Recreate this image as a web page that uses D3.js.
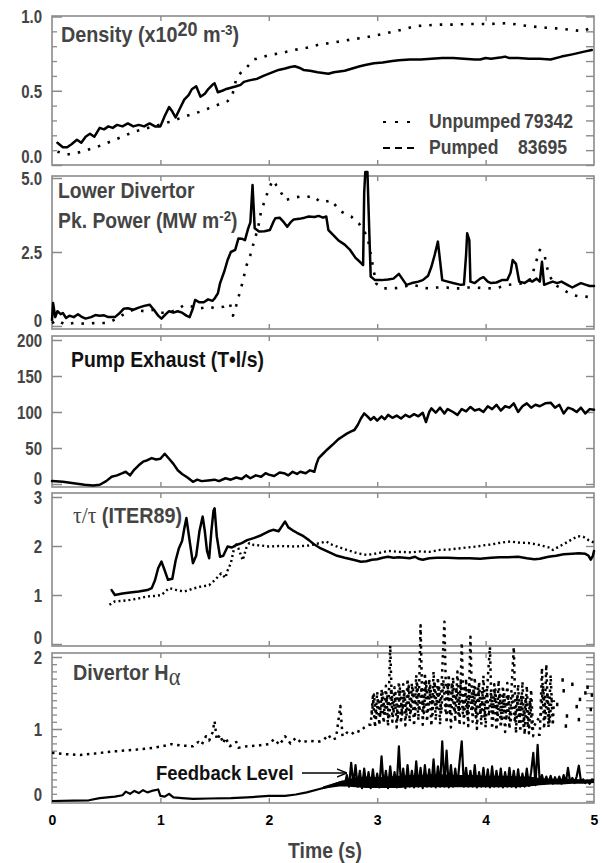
<!DOCTYPE html>
<html><head><meta charset="utf-8">
<script src="https://cdn.jsdelivr.net/npm/d3@7"></script>
<style>body{margin:0;background:#fff}</style>
</head><body>
<svg id="c" width="603" height="863"></svg>
<script>
// ---------------- DATA ----------------
const timeTicks = [0,1,2,3,4,5];

const densUnpumped = [[0.05,0.09],[0.14,0.07],[0.25,0.085],[0.41,0.12],[0.58,0.17],[0.76,0.225],[0.94,0.26],[1.08,0.29],[1.22,0.325],[1.37,0.36],[1.51,0.40],[1.62,0.43],[1.66,0.46],[1.70,0.58],[1.75,0.63],[1.80,0.66],[1.86,0.71],[2.0,0.74],[2.12,0.755],[2.24,0.775],[2.35,0.79],[2.46,0.81],[2.6,0.825],[2.76,0.845],[2.9,0.86],[3.1,0.89],[3.25,0.915],[3.35,0.935],[3.55,0.945],[3.7,0.945],[3.85,0.95],[4.05,0.95],[4.2,0.955],[4.3,0.945],[4.4,0.935],[4.55,0.925],[4.65,0.92],[4.8,0.91],[4.9,0.90],[4.97,0.925]];
const densPumped = [[0.05,0.15],[0.1,0.12],[0.14,0.12],[0.18,0.14],[0.23,0.17],[0.27,0.15],[0.31,0.19],[0.35,0.21],[0.39,0.19],[0.44,0.25],[0.48,0.24],[0.52,0.26],[0.56,0.25],[0.6,0.27],[0.65,0.26],[0.7,0.28],[0.75,0.26],[0.8,0.27],[0.85,0.26],[0.9,0.28],[0.95,0.26],[1.0,0.26],[1.04,0.33],[1.08,0.39],[1.11,0.36],[1.14,0.32],[1.18,0.38],[1.22,0.44],[1.26,0.47],[1.29,0.51],[1.33,0.53],[1.37,0.46],[1.41,0.48],[1.44,0.51],[1.48,0.54],[1.5,0.55],[1.53,0.49],[1.57,0.50],[1.6,0.51],[1.65,0.52],[1.7,0.53],[1.74,0.54],[1.77,0.56],[1.82,0.57],[1.89,0.58],[1.95,0.6],[2.02,0.62],[2.09,0.64],[2.15,0.65],[2.2,0.66],[2.24,0.665],[2.28,0.655],[2.32,0.64],[2.38,0.635],[2.45,0.625],[2.5,0.62],[2.55,0.615],[2.6,0.625],[2.65,0.63],[2.7,0.635],[2.77,0.65],[2.84,0.665],[2.9,0.675],[2.97,0.685],[3.05,0.69],[3.14,0.70],[3.2,0.705],[3.3,0.71],[3.4,0.71],[3.5,0.715],[3.6,0.72],[3.7,0.72],[3.8,0.715],[3.9,0.71],[3.95,0.71],[4.0,0.72],[4.05,0.715],[4.1,0.72],[4.15,0.725],[4.18,0.73],[4.22,0.72],[4.3,0.72],[4.4,0.715],[4.5,0.715],[4.6,0.71],[4.7,0.73],[4.8,0.745],[4.86,0.755],[4.92,0.765],[4.98,0.775]];

const powerPumped = [[0.0,0.2],[0.01,0.78],[0.03,0.3],[0.05,0.5],[0.08,0.4],[0.1,0.44],[0.13,0.27],[0.16,0.35],[0.2,0.3],[0.24,0.4],[0.27,0.32],[0.31,0.25],[0.36,0.3],[0.4,0.37],[0.44,0.35],[0.48,0.36],[0.52,0.3],[0.58,0.3],[0.62,0.42],[0.66,0.58],[0.7,0.6],[0.75,0.55],[0.8,0.62],[0.85,0.68],[0.9,0.72],[0.94,0.55],[0.98,0.35],[1.01,0.25],[1.05,0.4],[1.08,0.5],[1.12,0.45],[1.16,0.5],[1.2,0.45],[1.24,0.35],[1.27,0.3],[1.3,0.6],[1.32,0.88],[1.36,0.8],[1.4,0.8],[1.44,0.9],[1.48,0.85],[1.5,0.93],[1.53,1.1],[1.55,1.44],[1.59,1.85],[1.62,2.23],[1.65,2.5],[1.69,2.57],[1.72,2.96],[1.75,2.95],[1.78,2.9],[1.81,3.3],[1.83,3.5],[1.85,4.76],[1.87,3.3],[1.91,3.19],[1.96,3.2],[2.01,3.24],[2.04,3.5],[2.06,3.64],[2.1,3.66],[2.14,3.5],[2.17,3.35],[2.2,3.5],[2.23,3.6],[2.28,3.62],[2.33,3.66],[2.37,3.7],[2.42,3.68],[2.46,3.72],[2.5,3.66],[2.53,3.7],[2.55,3.24],[2.6,3.05],[2.64,2.9],[2.7,2.75],[2.75,2.57],[2.8,2.3],[2.84,2.17],[2.87,2.06],[2.88,4.5],[2.89,5.2],[2.91,5.2],[2.92,4.0],[2.94,1.67],[2.98,1.55],[3.04,1.55],[3.1,1.57],[3.15,1.6],[3.2,1.76],[3.23,1.6],[3.27,1.39],[3.32,1.45],[3.38,1.5],[3.42,1.55],[3.47,1.7],[3.5,2.0],[3.53,2.4],[3.56,2.85],[3.58,2.2],[3.6,1.55],[3.65,1.5],[3.7,1.45],[3.77,1.39],[3.8,1.4],[3.82,2.4],[3.83,3.13],[3.85,2.9],[3.86,1.5],[3.9,1.45],[3.95,1.6],[3.98,1.65],[4.02,1.5],[4.05,1.45],[4.1,1.47],[4.15,1.55],[4.2,1.55],[4.23,1.8],[4.25,2.23],[4.28,2.1],[4.31,1.5],[4.36,1.45],[4.4,1.55],[4.43,1.5],[4.47,1.6],[4.5,1.5],[4.52,2.17],[4.54,1.39],[4.58,1.45],[4.62,1.5],[4.66,1.45],[4.7,1.5],[4.75,1.4],[4.8,1.3],[4.85,1.4],[4.88,1.45],[4.92,1.4],[4.96,1.35],[5.0,1.35]];
const powerUnpumped = [[0.0,0.1],[0.05,0.2],[0.12,0.05],[0.2,0.1],[0.3,0.08],[0.4,0.1],[0.51,0.1],[0.6,0.25],[0.68,0.44],[0.75,0.55],[0.85,0.5],[0.94,0.55],[1.0,0.45],[1.08,0.45],[1.15,0.55],[1.22,0.71],[1.3,0.65],[1.37,0.6],[1.45,0.65],[1.5,0.6],[1.58,0.65],[1.64,0.77],[1.67,0.35],[1.7,0.7],[1.73,1.1],[1.76,1.5],[1.79,2.0],[1.83,2.4],[1.86,2.8],[1.9,3.3],[1.93,3.9],[1.97,4.3],[2.0,4.65],[2.04,4.93],[2.07,4.75],[2.1,4.6],[2.15,4.25],[2.2,4.3],[2.25,4.35],[2.29,4.37],[2.35,4.35],[2.4,4.4],[2.44,4.3],[2.47,4.2],[2.52,4.2],[2.58,4.25],[2.62,4.05],[2.65,3.9],[2.7,3.8],[2.76,3.7],[2.8,3.55],[2.83,3.47],[2.87,3.25],[2.91,3.02],[2.95,2.23],[2.99,1.44],[3.03,1.3],[3.06,1.27],[3.12,1.27],[3.17,1.28],[3.22,1.3],[3.27,1.35],[3.32,1.39],[3.38,1.35],[3.44,1.28],[3.48,1.27],[3.55,1.3],[3.64,1.3],[3.7,1.27],[3.77,1.27],[3.84,1.3],[3.91,1.3],[3.98,1.28],[4.05,1.27],[4.12,1.3],[4.2,1.39],[4.28,1.42],[4.35,1.44],[4.42,1.6],[4.46,2.1],[4.5,2.57],[4.54,2.45],[4.56,2.1],[4.58,1.76],[4.62,1.5],[4.66,1.35],[4.7,1.27],[4.75,1.15],[4.8,1.05],[4.86,1.0],[4.9,1.0],[4.95,0.98]];

const pumpExhaust = [[0,4],[0.1,3],[0.2,1],[0.3,-1],[0.38,-2],[0.44,-1],[0.5,4],[0.55,10],[0.6,12],[0.65,15],[0.68,17],[0.72,12],[0.76,20],[0.8,26],[0.84,31],[0.88,33],[0.92,36],[0.96,34],[1.0,35],[1.04,42],[1.08,35],[1.12,28],[1.16,19],[1.2,14],[1.25,9],[1.3,3],[1.34,6],[1.38,4],[1.44,5],[1.5,6],[1.54,4],[1.6,8],[1.65,6],[1.7,9],[1.75,7],[1.79,12],[1.83,8],[1.88,12],[1.93,10],[1.97,15],[2.0,13],[2.05,11],[2.1,16],[2.14,15],[2.18,12],[2.22,17],[2.26,14],[2.29,17],[2.34,15],[2.38,19],[2.42,17],[2.44,28],[2.46,36],[2.5,42],[2.54,48],[2.57,52],[2.6,56],[2.64,62],[2.68,66],[2.72,70],[2.76,73],[2.79,75],[2.82,82],[2.85,91],[2.88,98],[2.91,94],[2.94,89],[2.97,93],[3.0,88],[3.04,94],[3.07,90],[3.1,96],[3.14,92],[3.18,95],[3.22,91],[3.26,96],[3.3,93],[3.34,97],[3.38,94],[3.42,99],[3.45,86],[3.48,100],[3.5,105],[3.54,99],[3.58,106],[3.62,98],[3.65,104],[3.7,100],[3.74,96],[3.78,104],[3.82,101],[3.86,107],[3.9,102],[3.94,104],[3.98,100],[4.02,108],[4.06,104],[4.1,110],[4.14,102],[4.18,108],[4.22,106],[4.26,112],[4.3,100],[4.34,108],[4.38,112],[4.42,106],[4.46,110],[4.5,108],[4.55,112],[4.6,113],[4.64,106],[4.68,110],[4.72,98],[4.76,106],[4.8,104],[4.84,100],[4.88,106],[4.92,98],[4.96,104],[5.0,103]];

const tauPumped = [[0.55,1.10],[0.58,1.0],[0.65,1.03],[0.72,1.05],[0.8,1.07],[0.88,1.1],[0.92,1.14],[0.95,1.3],[0.98,1.55],[1.01,1.68],[1.04,1.5],[1.07,1.31],[1.11,1.33],[1.14,1.7],[1.17,1.95],[1.2,2.1],[1.22,2.35],[1.24,2.57],[1.27,2.1],[1.3,1.65],[1.33,1.8],[1.36,2.3],[1.39,2.6],[1.41,2.3],[1.43,1.9],[1.45,1.75],[1.47,2.3],[1.49,2.72],[1.5,2.77],[1.52,2.2],[1.55,1.78],[1.58,1.8],[1.62,1.99],[1.66,1.97],[1.7,2.02],[1.75,2.06],[1.8,2.12],[1.86,2.16],[1.93,2.22],[2.0,2.3],[2.04,2.33],[2.09,2.3],[2.12,2.4],[2.15,2.5],[2.18,2.38],[2.22,2.32],[2.26,2.27],[2.32,2.2],[2.37,2.12],[2.42,2.03],[2.48,1.95],[2.53,1.9],[2.58,1.85],[2.63,1.8],[2.7,1.76],[2.78,1.72],[2.85,1.68],[2.9,1.69],[2.95,1.72],[3.0,1.73],[3.05,1.76],[3.1,1.78],[3.15,1.76],[3.2,1.77],[3.25,1.76],[3.3,1.75],[3.35,1.78],[3.38,1.74],[3.42,1.72],[3.48,1.75],[3.55,1.76],[3.65,1.76],[3.75,1.75],[3.85,1.75],[3.95,1.74],[4.05,1.76],[4.13,1.77],[4.2,1.77],[4.3,1.78],[4.38,1.75],[4.45,1.73],[4.5,1.74],[4.58,1.78],[4.65,1.8],[4.72,1.83],[4.8,1.84],[4.86,1.85],[4.92,1.84],[4.95,1.8],[4.97,1.72],[4.99,1.8],[5.0,1.9]];
const tauUnpumped = [[0.53,0.8],[0.58,0.87],[0.65,0.88],[0.72,0.9],[0.8,0.93],[0.87,0.97],[0.94,0.98],[1.01,1.0],[1.08,1.14],[1.15,1.1],[1.22,1.07],[1.3,1.13],[1.37,1.17],[1.45,1.2],[1.5,1.3],[1.56,1.44],[1.6,1.35],[1.62,1.5],[1.65,1.65],[1.69,2.06],[1.72,1.95],[1.76,1.71],[1.79,1.95],[1.82,2.06],[1.86,2.02],[1.93,2.01],[2.0,1.99],[2.1,2.0],[2.24,1.99],[2.37,2.01],[2.45,2.05],[2.53,2.09],[2.58,2.03],[2.64,1.98],[2.72,1.92],[2.82,1.85],[2.9,1.82],[2.95,1.83],[3.02,1.86],[3.1,1.9],[3.2,1.88],[3.32,1.87],[3.4,1.89],[3.48,1.88],[3.58,1.92],[3.67,1.93],[3.75,1.95],[3.83,1.97],[3.92,1.99],[4.0,2.02],[4.05,2.03],[4.12,2.06],[4.18,2.08],[4.23,2.09],[4.3,2.07],[4.4,2.06],[4.48,2.03],[4.55,1.99],[4.6,1.96],[4.62,1.92],[4.67,1.98],[4.73,2.05],[4.8,2.14],[4.85,2.2],[4.9,2.19],[4.95,2.12],[5.0,2.07]];

const haUnpumped = [[0,0.67],[0.13,0.65],[0.26,0.64],[0.4,0.66],[0.58,0.69],[0.75,0.71],[0.94,0.74],[1.05,0.77],[1.1,0.79],[1.2,0.77],[1.3,0.76],[1.35,0.82],[1.38,0.78],[1.42,0.9],[1.45,0.84],[1.48,0.95],[1.5,1.11],[1.52,0.85],[1.55,0.92],[1.58,0.8],[1.6,0.88],[1.64,0.76],[1.7,0.82],[1.72,0.74],[1.8,0.76],[1.9,0.77],[2.0,0.79],[2.05,0.86],[2.1,0.78],[2.15,0.9],[2.2,0.8],[2.25,0.88],[2.3,0.81],[2.37,0.84],[2.45,0.82],[2.5,0.84],[2.55,0.92],[2.58,0.85],[2.62,0.87],[2.66,1.32],[2.68,0.9],[2.72,0.95],[2.76,0.92],[2.8,0.98],[2.84,0.96],[2.88,1.02],[2.92,1.06],
[2.94,1.06],[2.96,1.45],[2.98,1.02],[3.00,1.52],[3.02,1.05],[3.04,1.55],[3.06,1.08],[3.08,1.6],[3.10,1.04],[3.12,2.16],[3.14,1.1],[3.16,1.58],[3.18,1.02],[3.20,1.66],[3.22,1.08],[3.24,1.62],[3.26,1.05],[3.28,1.7],[3.30,1.1],[3.32,1.64],[3.34,1.04],[3.36,1.75],[3.38,1.12],[3.40,2.44],[3.42,1.06],[3.44,1.78],[3.46,1.1],[3.48,1.7],[3.50,1.04],[3.52,1.8],[3.54,1.12],[3.56,1.72],[3.58,1.06],[3.60,1.82],[3.62,2.49],[3.64,1.08],[3.66,1.76],[3.68,1.02],[3.70,1.72],[3.72,1.1],[3.74,1.8],[3.76,1.05],[3.78,2.2],[3.80,1.08],[3.82,1.7],[3.84,1.04],[3.86,2.28],[3.88,1.1],[3.90,1.72],[3.92,1.0],[3.94,1.66],[3.96,1.06],[3.98,1.74],[4.00,1.02],[4.02,1.7],[4.04,2.14],[4.06,1.0],[4.08,1.62],[4.10,0.98],[4.12,1.68],[4.14,1.02],[4.16,1.6],[4.18,0.96],[4.20,1.64],[4.22,1.0],[4.24,1.58],[4.26,2.14],[4.28,0.94],[4.30,1.62],[4.32,0.96],[4.34,1.66],[4.36,0.92],[4.38,1.6],[4.40,0.94],[4.42,1.55],[4.44,0.9],[4.46,0.9],[4.48,0.92],
[4.50,0.92],[4.52,1.85],[4.54,1.0],[4.56,1.9],[4.58,1.02],[4.60,1.75],[4.62,1.05],[4.63,1.4]];
const haUnpumpedBand2 = [[2.95,1.2],[2.97,1.48],[2.99,1.15],[3.01,1.42],[3.03,1.18],[3.05,1.5],[3.07,1.2],[3.09,1.45],[3.11,1.14],[3.13,1.56],[3.15,1.22],[3.17,1.5],[3.19,1.16],[3.21,1.58],[3.23,1.2],[3.25,1.52],[3.27,1.18],[3.29,1.6],[3.31,1.24],[3.33,1.55],[3.35,1.2],[3.37,1.62],[3.39,1.25],[3.41,1.58],[3.43,1.22],[3.45,1.66],[3.47,1.26],[3.49,1.6],[3.51,1.2],[3.53,1.65],[3.55,1.28],[3.57,1.6],[3.59,1.22],[3.61,1.68],[3.63,1.25],[3.65,1.62],[3.67,1.2],[3.69,1.64],[3.71,1.24],[3.73,1.58],[3.75,1.2],[3.77,1.66],[3.79,1.22],[3.81,1.6],[3.83,1.18],[3.85,1.62],[3.87,1.24],[3.89,1.56],[3.91,1.16],[3.93,1.6],[3.95,1.2],[3.97,1.55],[3.99,1.15],[4.01,1.58],[4.03,1.18],[4.05,1.52],[4.07,1.14],[4.09,1.55],[4.11,1.12],[4.13,1.5],[4.15,1.1],[4.17,1.52],[4.19,1.12],[4.21,1.48],[4.23,1.08],[4.25,1.5],[4.27,1.1],[4.29,1.46],[4.31,1.06],[4.33,1.48],[4.35,1.04],[4.37,1.44],[4.39,1.02],[4.41,1.4],[4.43,1.0],[4.51,1.2],[4.53,1.6],[4.55,1.15],[4.57,1.5],[4.59,1.1],[4.61,1.45]];
const haUnpumpedScatter = [[4.66,1.34],[4.71,1.68],[4.72,1.53],[4.74,1.04],[4.75,1.18],[4.8,1.62],[4.84,1.31],[4.86,1.13],[4.87,1.41],[4.92,1.5],[4.94,1.58],[4.97,1.27],[4.98,1.47]];
const haPumped = [[0,0.0],[0.2,0.005],[0.34,0.01],[0.44,0.04],[0.58,0.06],[0.65,0.08],[0.68,0.13],[0.72,0.1],[0.76,0.14],[0.8,0.11],[0.84,0.15],[0.88,0.12],[0.92,0.14],[0.98,0.16],[1.0,0.07],[1.04,0.06],[1.08,0.1],[1.12,0.05],[1.2,0.04],[1.3,0.03],[1.45,0.035],[1.65,0.04],[1.8,0.05],[2.0,0.07],[2.15,0.07],[2.25,0.09],[2.35,0.12],[2.45,0.16],[2.55,0.2],[2.62,0.24],[2.68,0.27],
[2.70,0.22],[2.72,0.36],[2.74,0.2],[2.76,0.53],[2.78,0.22],[2.80,0.5],[2.82,0.2],[2.84,0.42],[2.86,0.18],[2.88,0.45],[2.90,0.2],[2.92,0.4],[2.94,0.18],[2.96,0.44],[2.98,0.2],[3.00,0.38],[3.02,0.19],[3.04,0.62],[3.06,0.2],[3.08,0.42],[3.10,0.18],[3.12,0.48],[3.14,0.2],[3.16,0.4],[3.18,0.19],[3.20,0.76],[3.22,0.2],[3.24,0.45],[3.26,0.18],[3.28,0.5],[3.30,0.2],[3.32,0.42],[3.34,0.19],[3.36,0.55],[3.38,0.2],[3.40,0.46],[3.42,0.18],[3.44,0.5],[3.46,0.2],[3.48,0.44],[3.50,0.2],[3.52,0.58],[3.54,0.19],[3.56,0.48],[3.58,0.2],[3.60,0.83],[3.62,0.2],[3.64,0.7],[3.66,0.19],[3.68,0.5],[3.70,0.2],[3.72,0.45],[3.74,0.21],[3.76,0.55],[3.78,0.83],[3.80,0.2],[3.82,0.46],[3.84,0.2],[3.86,0.42],[3.88,0.2],[3.90,0.5],[3.92,0.19],[3.94,0.4],[3.96,0.2],[3.98,0.46],[4.00,0.2],[4.02,0.44],[4.04,0.19],[4.06,0.48],[4.08,0.2],[4.10,0.42],[4.12,0.2],[4.14,0.45],[4.16,0.19],[4.18,0.4],[4.20,0.2],[4.22,0.46],[4.24,0.2],[4.26,0.42],[4.28,0.19],[4.30,0.44],[4.32,0.2],[4.34,0.38],[4.36,0.2],[4.38,0.45],[4.40,0.21],[4.42,0.4],[4.44,0.67],[4.46,0.22],[4.48,0.78],[4.50,0.24],[4.52,0.36],[4.54,0.24],[4.56,0.34],[4.58,0.25],[4.60,0.35],[4.62,0.24],[4.64,0.33],[4.66,0.25],[4.68,0.34],[4.70,0.24],[4.72,0.36],[4.74,0.25],[4.76,0.46],[4.78,0.26],[4.80,0.32],[4.82,0.25],[4.84,0.34],[4.86,0.49],[4.88,0.27],[4.90,0.3],[4.92,0.25],[4.94,0.28],[4.96,0.24],[4.98,0.3],[5.00,0.29]];
// dense core of the pumped H-alpha trace: [time, low, high]
const haPumpedCore = [[2.5,0.17,0.2],[2.65,0.2,0.27],[2.72,0.2,0.3],[2.8,0.19,0.33],[2.9,0.18,0.34],[3.0,0.18,0.33],[3.1,0.18,0.34],[3.2,0.18,0.35],[3.3,0.19,0.36],[3.4,0.19,0.36],[3.5,0.19,0.37],[3.6,0.19,0.37],[3.7,0.19,0.36],[3.8,0.19,0.36],[3.9,0.19,0.36],[4.0,0.19,0.35],[4.1,0.19,0.35],[4.2,0.19,0.35],[4.3,0.19,0.34],[4.4,0.2,0.34],[4.5,0.22,0.32],[4.6,0.23,0.31],[4.7,0.23,0.31],[4.8,0.24,0.31],[4.9,0.24,0.3],[5.0,0.25,0.3]];

const densTicks = [0,0.5,1], densTickLabels = ["0.0","0.5","1.0"], densMinor = [0.1,0.2,0.3,0.4,0.6,0.7,0.8,0.9];
const powerTicks = [0,2.5,5], powerTickLabels = ["0","2.5","5.0"];
const pumpTicks = [0,50,100,150,200], pumpTickLabels = ["0","50","100","150","200"];
const tauTicks = [0,1,2,3], tauTickLabels = ["0","1","2","3"];
const haTicks = [0,1,2], haTickLabels = ["0","1","2"], haMinor = [0.1,0.2,0.3,0.4,0.5,0.6,0.7,0.8,0.9,1.1,1.2,1.3,1.4,1.5,1.6,1.7,1.8,1.9];

// ---------------- DRAWING ----------------
const svg = d3.select('#c');
const SANS = "'Liberation Sans',Arial,sans-serif";
const SERIF = "'Liberation Serif','DejaVu Serif',serif";
const GREY = "#444";
const x = d3.scaleLinear().domain([0,5]).range([52,594]);

const panels = [
  {top:16, bottom:165, dom:[0,1], rng:[165,16.5], ticks:densTicks, labels:densTickLabels, minor:densMinor},
  {top:176, bottom:329, dom:[0,5], rng:[326,178], ticks:powerTicks, labels:powerTickLabels, minor:[]},
  {top:336, bottom:487, dom:[0,200], rng:[484,340], ticks:pumpTicks, labels:pumpTickLabels, minor:[]},
  {top:493, bottom:646, dom:[0,3], rng:[644,497], ticks:tauTicks, labels:tauTickLabels, minor:[]},
  {top:653, bottom:803, dom:[0,2], rng:[801,657], ticks:haTicks, labels:haTickLabels, minor:haMinor}
];
panels.forEach(p => { p.y = d3.scaleLinear().domain(p.dom).range(p.rng); });

panels.forEach(p => {
  const g = svg.append('g');
  g.append('rect').attr('x',x(0)).attr('y',p.top).attr('width',x(5)-x(0)).attr('height',p.bottom-p.top)
    .attr('fill','none').attr('stroke','#8a8a8a').attr('stroke-width',1.6);
  const la = g.append('g').attr('transform',`translate(${x(0)},0)`)
    .call(d3.axisLeft(p.y).tickValues(p.ticks).tickSize(-10).tickPadding(11.5)
      .tickFormat((d,i)=>p.labels[i]));
  la.select('.domain').remove();
  la.selectAll('line').attr('stroke','#8a8a8a').attr('stroke-width',1.5);
  la.selectAll('text').attr('font-family',SANS).attr('font-weight','bold').attr('font-size',17.5)
    .attr('fill',GREY).attr('dy','0.36em').attr('transform','scale(0.86,1)')
    .attr('y', d => Math.min(p.y(d), p.bottom-9) - p.y(d));
  if (p.minor.length) {
    const lm = g.append('g').attr('transform',`translate(${x(0)},0)`)
      .call(d3.axisLeft(p.y).tickValues(p.minor).tickSize(-5).tickFormat(''));
    lm.select('.domain').remove();
    lm.selectAll('line').attr('stroke','#8a8a8a').attr('stroke-width',1.3);
  }
  const ra = g.append('g').attr('transform',`translate(${x(5)},0)`)
    .call(d3.axisRight(p.y).tickValues(p.ticks.concat(p.minor)).tickSize(-8).tickFormat(''));
  ra.select('.domain').remove();
  ra.selectAll('line').attr('stroke','#8a8a8a').attr('stroke-width',1.4);
  const ba = g.append('g').attr('transform',`translate(0,${p.bottom})`)
    .call(d3.axisBottom(x).tickValues([1,2,3,4]).tickSize(-5).tickFormat(''));
  ba.select('.domain').remove();
  ba.selectAll('line').attr('stroke','#8a8a8a').attr('stroke-width',1.4);
  const ta = g.append('g').attr('transform',`translate(0,${p.top})`)
    .call(d3.axisTop(x).tickValues([1,2,3,4]).tickSize(-5).tickFormat(''));
  ta.select('.domain').remove();
  ta.selectAll('line').attr('stroke','#8a8a8a').attr('stroke-width',1.4);
});

const tl = svg.append('g').attr('transform',`translate(0,${panels[4].bottom})`)
  .call(d3.axisBottom(x).tickValues(timeTicks).tickSize(0).tickPadding(12).tickFormat(d3.format('d')));
tl.select('.domain').remove();
tl.selectAll('text').attr('font-family',SANS).attr('font-weight','bold')
  .attr('font-size',14).attr('fill','#000');

function drawLine(p, data, opt) {
  const line = d3.line().x(d=>x(d[0])).y(d=>p.y(d[1]));
  svg.append('path').datum(data).attr('d',line).attr('fill','none')
    .attr('stroke','#000').attr('stroke-width',opt.w||2.4)
    .attr('stroke-linejoin','round').attr('stroke-linecap',opt.cap||'round')
    .attr('stroke-dasharray',opt.dash||null);
}
const P = panels;
drawLine(P[0], densUnpumped, {w:2.6, dash:'2.5,8', cap:'butt'});
drawLine(P[0], densPumped, {w:2.5});
drawLine(P[1], powerUnpumped, {w:2.6, dash:'2.5,8', cap:'butt'});
drawLine(P[1], powerPumped, {w:2.5});
drawLine(P[2], pumpExhaust, {w:2.5});
drawLine(P[3], tauUnpumped, {w:2.4, dash:'2,3', cap:'butt'});
drawLine(P[3], tauPumped, {w:2.5});
drawLine(P[4], haUnpumped, {w:2.5, dash:'2.5,4.5', cap:'butt'});
drawLine(P[4], haUnpumpedBand2, {w:2.5, dash:'2.5,3.5', cap:'butt'});
svg.append('g').selectAll('rect').data(haUnpumpedScatter).join('rect')
  .attr('x',d=>x(d[0])-1.2).attr('y',d=>P[4].y(d[1])-1.8).attr('width',2.5).attr('height',3.5).attr('fill','#000');
svg.append('path').datum(haPumpedCore)
  .attr('d', d3.area().x(d=>x(d[0])).y0(d=>P[4].y(d[1])).y1(d=>P[4].y(d[2])))
  .attr('fill','#000');
drawLine(P[4], haPumped, {w:2.2, cap:'butt'});

function ctext(xp, yp, sx, opts) {
  const g = svg.append('g').attr('transform',`translate(${xp},${yp}) scale(${sx},1)`);
  const t = g.append('text').attr('x',0).attr('y',0)
    .attr('font-family',SANS).attr('font-weight','bold')
    .attr('font-size',opts.fs||22).attr('fill',opts.color||GREY)
    .attr('text-anchor',opts.anchor||'start');
  (opts.parts||[{t:opts.text}]).forEach(pt => {
    const s = t.append('tspan').text(pt.t);
    if (pt.dy) s.attr('dy',pt.dy);
    if (pt.fs) s.attr('font-size',pt.fs);
    if (pt.ff) s.attr('font-family',pt.ff);
    if (pt.fw) s.attr('font-weight',pt.fw);
  });
  return t;
}
ctext(61, 42, 0.9, {parts:[{t:'Density (x10'},{t:'20',dy:-6,fs:20},{t:' m',dy:6},{t:'-3',dy:-7,fs:15},{t:')',dy:7}]});
ctext(58, 198, 0.88, {text:'Lower Divertor'});
ctext(58, 228, 0.88, {parts:[{t:'Pk. Power (MW m'},{t:'-2',dy:-7,fs:15},{t:')',dy:7}]});
ctext(71, 367, 0.88, {text:'Pump Exhaust (T\u2022l/s)', color:'#111'});
ctext(73, 523, 0.9, {parts:[{t:'\u03c4/\u03c4',ff:SERIF,fw:'normal',fs:24},{t:' (ITER89)'}]});
ctext(73, 680, 0.9, {parts:[{t:'Divertor H'},{t:'\u03b1',dy:5,ff:SERIF,fw:'normal',fs:25}]});

svg.append('line').attr('x1',383).attr('x2',413).attr('y1',122).attr('y2',122)
  .attr('stroke','#000').attr('stroke-width',2).attr('stroke-dasharray','3,9');
svg.append('line').attr('x1',383).attr('x2',414).attr('y1',148).attr('y2',148)
  .attr('stroke','#000').attr('stroke-width',2).attr('stroke-dasharray','7,5');
ctext(429, 128, 0.88, {text:'Unpumped', fs:20});
ctext(573, 128, 0.88, {text:'79342', fs:20, anchor:'end'});
ctext(429, 154, 0.88, {text:'Pumped', fs:20});
ctext(567, 154, 0.88, {text:'83695', fs:20, anchor:'end'});

svg.append('defs').append('marker').attr('id','ah').attr('viewBox','0 0 10 10').attr('refX',9).attr('refY',5)
  .attr('markerWidth',8).attr('markerHeight',8).attr('orient','auto')
  .append('path').attr('d','M0,1 L10,5 L0,9').attr('fill','none').attr('stroke','#000').attr('stroke-width',1.3);
ctext(156, 780, 0.88, {text:'Feedback Level', fs:21, color:'#111'});
svg.append('line').attr('x1',302).attr('x2',346).attr('y1',773).attr('y2',773)
  .attr('stroke','#000').attr('stroke-width',1.3).attr('marker-end','url(#ah)');

ctext(325, 858, 0.88, {text:'Time (s)', fs:22, anchor:'middle'});
</script>
</body></html>
